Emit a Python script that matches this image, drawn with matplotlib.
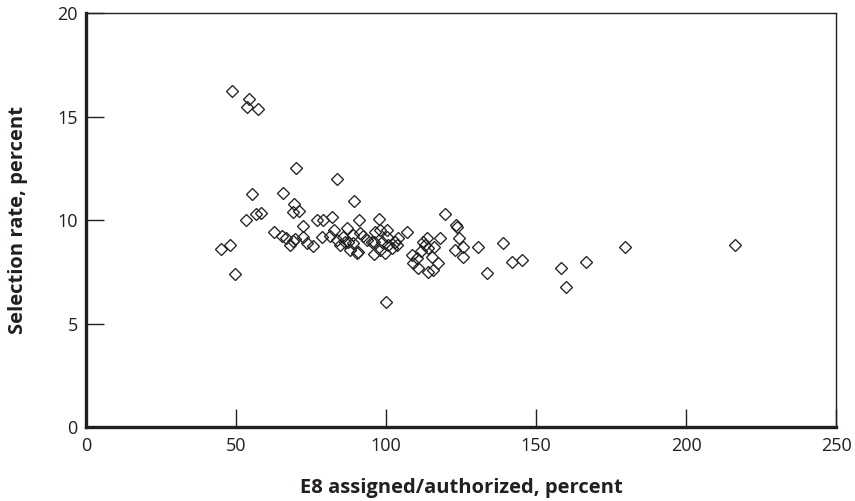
import matplotlib
matplotlib.use("Agg")
import matplotlib.pyplot as plt

# E8 assigned/authorized (%) vs selection rate (%)
e8_pct = [48.6, 54.3, 53.8, 57.2,
          70.1, 83.7, 55.4, 65.7, 89.3,
          69.4, 69.1, 71.0, 58.3, 56.6, 53.2,
          72.4, 76.9, 79.1, 82.0, 91.1, 97.6,
          62.8, 65.4, 66.7, 69.7, 69.1, 68.0, 73.6, 75.6, 72.4, 78.6, 81.3, 82.5,
          84.5, 85.8, 86.9, 87.4, 89.1, 89.1, 90.8, 91.3, 92.2, 96.1, 96.1, 98.0,
          45.0, 48.0, 49.8,
          96.3, 100.2, 100.2, 104.1, 103.6, 101.9, 99.7, 98.0, 90.2, 88.0,
          83.6, 86.3, 93.6, 95.2, 98.6, 100.8, 103.0,
          106.9, 113.6, 112.4, 108.6, 110.2, 109.1, 110.8, 114.1, 115.8, 117.4,
          115.2, 114.1, 118.0, 119.7, 123.2, 123.6, 124.4, 125.8, 123.0, 125.6,
          113.0, 111.5, 116.0,
          130.6, 133.6, 139.1, 141.9, 145.4, 158.2, 160.0, 166.7, 179.8, 216.4,
          100.0]
sel_rate = [16.26, 15.85, 15.46, 15.38,
            12.52, 12.0, 11.28, 11.3, 10.94,
            10.77, 10.41, 10.46, 10.36, 10.28, 9.99,
            9.73, 10.01, 10.0, 10.17, 10.0, 10.04,
            9.44, 9.25, 9.12, 9.09, 8.99, 8.8, 8.88, 8.75, 9.17, 9.17, 9.24, 9.53,
            8.8, 9.2, 9.6, 8.96, 8.88, 9.28, 8.48, 9.37, 9.24, 8.96, 8.37, 9.53,
            8.61, 8.8, 7.41,
            9.44, 9.53, 9.2, 9.12, 8.8, 8.64, 8.4, 8.56, 8.4, 8.56,
            9.04, 8.96, 9.04, 8.96, 8.96, 8.8, 8.96,
            9.44, 9.12, 8.96, 8.32, 8.16, 7.92, 7.67, 7.51, 7.59, 7.92,
            8.24, 8.64, 9.12, 10.3, 9.75, 9.65, 9.15, 8.69, 8.56, 8.2,
            8.8, 8.5, 8.7,
            8.69, 7.43, 8.91, 8.0, 8.08, 7.7, 6.79, 8.0, 8.72, 8.8,
            6.06]

x_ticks = [0, 50, 100, 150, 200, 250]
y_ticks = [0, 5, 10, 15, 20]

plt.rcParams['font.family'] = ['Open Sans', 'DejaVu Sans']

fig = plt.figure(figsize=(8.55, 5.01), dpi=100)
ax = fig.add_axes([0.1006, 0.1477, 0.8772, 0.8258])

ax.plot(e8_pct, sel_rate, linestyle='none', marker='D', markersize=6.2,
        markerfacecolor='none', markeredgecolor='#222222', markeredgewidth=0.95,
        clip_on=False)

ax.set_xlim(0, 250)
ax.set_ylim(0, 20)
ax.set_xticks(x_ticks)
ax.set_yticks(y_ticks)
ax.tick_params(direction='in', length=13, width=1.0, color='#231f20',
               labelsize=13, labelcolor='#231f20', pad=6)
ax.tick_params(axis='x', pad=7)

for side in ['left', 'bottom']:
    ax.spines[side].set_linewidth(2.4)
for side in ['top', 'right']:
    ax.spines[side].set_linewidth(1.0)
for sp in ax.spines.values():
    sp.set_color('#231f20')

ax.set_xlabel('E8 assigned/authorized, percent', fontsize=14.5, fontweight='bold',
              color='#231f20', labelpad=17)
ax.set_ylabel('Selection rate, percent', fontsize=14.5, fontweight='bold',
              color='#231f20', labelpad=21)

fig.savefig('out.png', dpi=100)
